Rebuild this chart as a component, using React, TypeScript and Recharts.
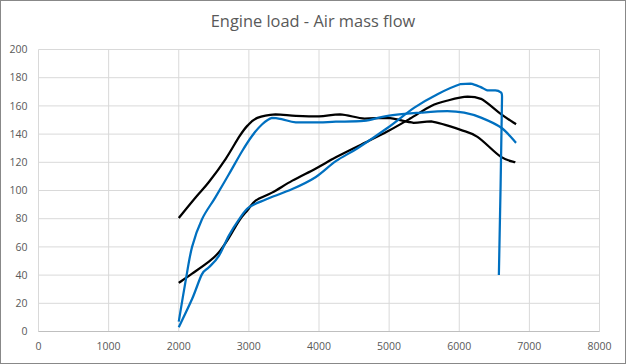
import React from "react";
import { LineChart, Line, XAxis, YAxis, CartesianGrid } from "recharts";

// Black series ending low (flat ~152 then falling to 120)
const blackHighX = [2000, 2240, 2430, 2670, 2860, 2980, 3120, 3380, 3670, 4000, 4300, 4650, 4980, 5350, 5600, 6020, 6260, 6590, 6800];
const blackHighY = [80.5, 95, 106, 122.5, 138, 146, 151.5, 154, 153, 152.5, 154, 151, 151.5, 148, 149, 143, 138, 124, 120];

// Black series rising to ~166 at 6100
const blackLowX = [2000, 2190, 2430, 2570, 2710, 2860, 2980, 3100, 3330, 3620, 3950, 4240, 4600, 4980, 5300, 5600, 5850, 6120, 6310, 6600, 6810];
const blackLowY = [34.5, 41, 49.5, 56, 66, 78.5, 86, 93, 98.5, 107, 115.5, 123.5, 132.5, 142, 151, 160, 164, 166.5, 165, 154, 147];

// Blue series: steep rise to a plateau ~148, ends at 134
const blueFlatX = [2000, 2095, 2190, 2330, 2520, 2715, 2905, 3050, 3190, 3330, 3480, 3670, 4000, 4240, 4640, 4980, 5450, 5830, 6070, 6310, 6600, 6810];
const blueFlatY = [7, 35, 60, 79.5, 95, 111.5, 128, 139, 147, 151.5, 150.5, 148.3, 148.3, 148.8, 149.3, 153, 155.2, 156.3, 155.2, 151.7, 144.5, 133.8];

// Blue series: rising to ~176 at 6150, then dropping to 40
const bluePeakX = [2000, 2190, 2330, 2430, 2570, 2715, 2860, 3000, 3240, 3620, 3950, 4240, 4550, 4980, 5360, 5690, 6020, 6160, 6300, 6400, 6500, 6580, 6610, 6565];
const bluePeakY = [3, 23, 40.5, 45.5, 53.5, 68, 79.5, 88, 93.6, 101, 109.4, 120.8, 130, 144.5, 158.8, 168.3, 175.5, 175.8, 173.5, 171, 171, 170, 166, 40];

const xTicks = [0, 1000, 2000, 3000, 4000, 5000, 6000, 7000, 8000];
const yTicks = [0, 20, 40, 60, 80, 100, 120, 140, 160, 180, 200];

const title = "Engine load - Air mass flow";

const toPoints = (xs: number[], ys: number[]) => xs.map((x, i) => ({ x, y: ys[i] }));

const blackHigh = toPoints(blackHighX, blackHighY);
const blackLow = toPoints(blackLowX, blackLowY);
const blueFlat = toPoints(blueFlatX, blueFlatY);
const bluePeak = toPoints(bluePeakX, bluePeakY);

const clamp = (v: number, a: number, b: number) => Math.max(Math.min(a, b), Math.min(Math.max(a, b), v));

// Excel-like smoothed line (Catmull-Rom style Bezier, no vertical overshoot)
const smoothCurve = (context: any) => {
  let pts: number[][] = [];
  return {
    areaStart() {},
    areaEnd() {},
    lineStart() {
      pts = [];
    },
    point(x: number, y: number) {
      pts.push([+x, +y]);
    },
    lineEnd() {
      const n = pts.length;
      if (!n) return;
      context.moveTo(pts[0][0], pts[0][1]);
      if (n === 1) return;
      const t = 1 / 6;
      for (let i = 0; i < n - 1; i++) {
        const p0 = pts[i - 1] || pts[i];
        const p1 = pts[i];
        const p2 = pts[i + 1];
        const p3 = pts[i + 2] || p2;
        context.bezierCurveTo(
          p1[0] + (p2[0] - p0[0]) * t,
          clamp(p1[1] + (p2[1] - p0[1]) * t, p1[1], p2[1]),
          p2[0] - (p3[0] - p1[0]) * t,
          clamp(p2[1] - (p3[1] - p1[1]) * t, p1[1], p2[1]),
          p2[0],
          p2[1]
        );
      }
    },
  };
};

const FONT = "'Open Sans', 'Noto Sans', sans-serif";
const tickStyle = { fill: "#595959", fontSize: 10.5, fontFamily: FONT };

export default function App() {
  return (
    <div style={{ position: "absolute", left: 0, top: 0, width: 626, height: 364, background: "#fff" }}>
      <LineChart width={626} height={364} margin={{ top: 49.5, right: 26.5, bottom: 12.5, left: 0.5 }}>
        <CartesianGrid stroke="#d9d9d9" strokeWidth={1} />
        <XAxis
          type="number"
          dataKey="x"
          domain={[0, 8000]}
          ticks={xTicks}
          interval={0}
          allowDataOverflow
          height={20}
          tickLine={false}
          tickSize={6}
          tickMargin={5}
          axisLine={{ stroke: "#bfbfbf" }}
          tick={tickStyle}
        />
        <YAxis
          type="number"
          dataKey="y"
          domain={[0, 200]}
          ticks={yTicks}
          interval={0}
          width={38}
          tickLine={false}
          tickSize={6}
          tickMargin={5}
          axisLine={false}
          tick={tickStyle}
        />
        <Line data={blackHigh} dataKey="y" type={smoothCurve as any} stroke="#000000" strokeWidth={2.25} dot={false} activeDot={false} isAnimationActive={false} />
        <Line data={blackLow} dataKey="y" type={smoothCurve as any} stroke="#000000" strokeWidth={2.25} dot={false} activeDot={false} isAnimationActive={false} />
        <Line data={blueFlat} dataKey="y" type={smoothCurve as any} stroke="#0070c0" strokeWidth={2.25} dot={false} activeDot={false} isAnimationActive={false} />
        <Line data={bluePeak} dataKey="y" type={smoothCurve as any} stroke="#0070c0" strokeWidth={2.25} dot={false} activeDot={false} isAnimationActive={false} />
      </LineChart>
      <svg width={626} height={364} style={{ position: "absolute", left: 0, top: 0, pointerEvents: "none" }}>
        <text x={313} y={27} textAnchor="middle" fill="#595959" fontSize={16.4} fontFamily={FONT}>
          {title}
        </text>
        <rect x={0.5} y={0.5} width={625} height={363} fill="none" stroke="#888888" strokeWidth={1} />
      </svg>
    </div>
  );
}
